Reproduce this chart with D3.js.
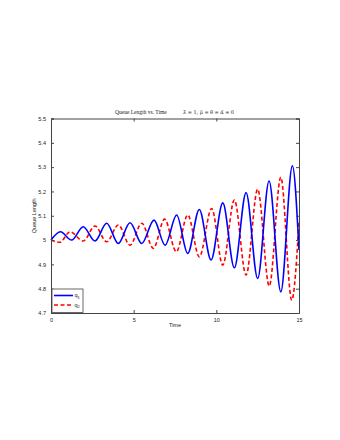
<!DOCTYPE html>
<html>
<head>
<meta charset="utf-8">
<script src="https://cdn.jsdelivr.net/npm/d3@7"></script>
<style>
  body { margin: 0; background: #fff; }
</style>
</head>
<body>
<div id="chart"></div>
<script>
// peaks / troughs (time, queue length)
q1Time = [0, 0.57, 1.25, 1.95, 2.66, 3.37, 4.07, 4.78, 5.49, 6.23, 6.90, 7.60, 8.27, 8.97, 9.68, 10.39, 11.09, 11.80, 12.50, 13.19, 13.90, 14.60, 15]
q1Value = [5.0, 5.034, 5.0, 5.055, 4.996, 5.069, 4.986, 5.071, 4.986, 5.082, 4.979, 5.103, 4.945, 5.126, 4.918, 5.153, 4.886, 5.195, 4.842, 5.243, 4.787, 5.305, 4.959]

q2Time = [0, 0.54, 1.15, 1.95, 2.66, 3.37, 4.07, 4.78, 5.49, 6.19, 6.87, 7.58, 8.27, 8.97, 9.72, 10.39, 11.09, 11.80, 12.50, 13.20, 13.90, 14.56, 15]
q2Value = [5.0, 4.991, 5.034, 4.996, 5.058, 4.993, 5.062, 4.979, 5.069, 4.966, 5.086, 4.952, 5.103, 4.931, 5.130, 4.897, 5.165, 4.856, 5.209, 4.811, 5.258, 4.753, 5.074]

xTicks = [0, 5, 10, 15]
yTicks = [4.7, 4.8, 4.9, 5, 5.1, 5.2, 5.3, 5.4, 5.5]

margin = {top: 118.5, right: 41, bottom: 127, left: 51}
width = 340 - margin.left - margin.right
height = 440 - margin.top - margin.bottom

svg = d3.select("#chart")
  .append("svg")
  .attr("width", 340)
  .attr("height", 440)

g = svg.append("g")
  .attr("transform", `translate(${margin.left}, ${margin.top})`)

x = d3.scaleLinear().domain([0, 15]).range([0, width])
y = d3.scaleLinear().domain([4.7, 5.5]).range([height, 0])

tickFont = "'Liberation Sans', Arial, sans-serif"

// axes, MATLAB style: ticks inward on all four sides
function styleAxis(sel) {
  sel.selectAll("text")
    .style("font-family", tickFont)
    .style("font-size", "5.5px")
    .attr("fill", "#222")
  sel.selectAll("line").attr("stroke", "#444")
  sel.select(".domain").attr("stroke", "#444")
}

// lines go first so the axis frame sits on top
line = d3.line()
  .x(d => x(d[0]))
  .y(d => y(d[1]))
  .curve(d3.curveMonotoneX)

q1 = q1Time.map((t, i) => [t, q1Value[i]])
q2 = q2Time.map((t, i) => [t, q2Value[i]])

g.append("path")
  .datum(q2)
  .attr("d", line)
  .attr("fill", "none")
  .attr("stroke", "#ff0000")
  .attr("stroke-width", 1.6)
  .attr("stroke-dasharray", "4,2.5")

g.append("path")
  .datum(q1)
  .attr("d", line)
  .attr("fill", "none")
  .attr("stroke", "#0000ff")
  .attr("stroke-width", 1.6)

g.append("g")
  .attr("transform", `translate(0, ${height})`)
  .call(d3.axisBottom(x).tickValues(xTicks).tickSize(-3).tickPadding(5).tickFormat(d3.format("d")))
  .call(styleAxis)

g.append("g")
  .call(d3.axisLeft(y).tickValues(yTicks).tickSize(-3).tickPadding(5).tickFormat(d => d3.format("")(+d.toFixed(1))))
  .call(styleAxis)

g.append("g")
  .call(d3.axisTop(x).tickValues(xTicks).tickSize(-3).tickFormat(""))
  .call(styleAxis)

g.append("g")
  .attr("transform", `translate(${width}, 0)`)
  .call(d3.axisRight(y).tickValues(yTicks).tickSize(-3).tickFormat(""))
  .call(styleAxis)

// legend
legend = g.append("g").attr("transform", `translate(1, ${height - 24})`)
legend.append("rect")
  .attr("width", 31).attr("height", 23.5)
  .attr("fill", "#fff").attr("stroke", "#444").attr("stroke-width", 0.8)

series = [
  {name: "1", color: "#0000ff", dash: null},
  {name: "2", color: "#ff0000", dash: "4,2.5"}
]
series.forEach((s, i) => {
  yy = 6.5 + i * 9.5
  legend.append("line")
    .attr("x1", 2).attr("x2", 21).attr("y1", yy).attr("y2", yy)
    .attr("stroke", s.color).attr("stroke-width", 1.6)
    .attr("stroke-dasharray", s.dash)
  t = legend.append("text")
    .attr("x", 22.5).attr("y", yy + 1.5)
    .style("font-family", tickFont).style("font-size", "5.5px")
    .attr("fill", "#222")
  t.append("tspan").text("q")
  t.append("tspan").attr("dy", 1.5).style("font-size", "4px").text(s.name)
})

// axis labels
svg.append("text")
  .attr("x", margin.left + width / 2).attr("y", 327)
  .attr("text-anchor", "middle")
  .style("font-family", tickFont).style("font-size", "5.5px")
  .attr("fill", "#222")
  .text("Time")

svg.append("text")
  .attr("transform", `translate(36, ${margin.top + height / 2}) rotate(-90)`)
  .attr("text-anchor", "middle")
  .style("font-family", tickFont).style("font-size", "5.5px")
  .attr("fill", "#222")
  .text("Queue Length")

// title
svg.append("text")
  .attr("x", 115).attr("y", 113.5)
  .style("font-family", "'Liberation Serif', 'DejaVu Serif', serif")
  .style("font-size", "5.5px")
  .attr("fill", "#222")
  .text("Queue Length vs. Time")

svg.append("text")
  .attr("x", 183).attr("y", 113.5)
  .attr("textLength", 51).attr("lengthAdjust", "spacing")
  .style("font-family", "'DejaVu Serif', serif")
  .style("font-size", "5px")
  .attr("fill", "#222")
  .text("\u03bb\u0302 = 1, \u03bc\u0302 = \u03b8\u0302 = \u03b1\u0302 = 0")
</script>
</body>
</html>
